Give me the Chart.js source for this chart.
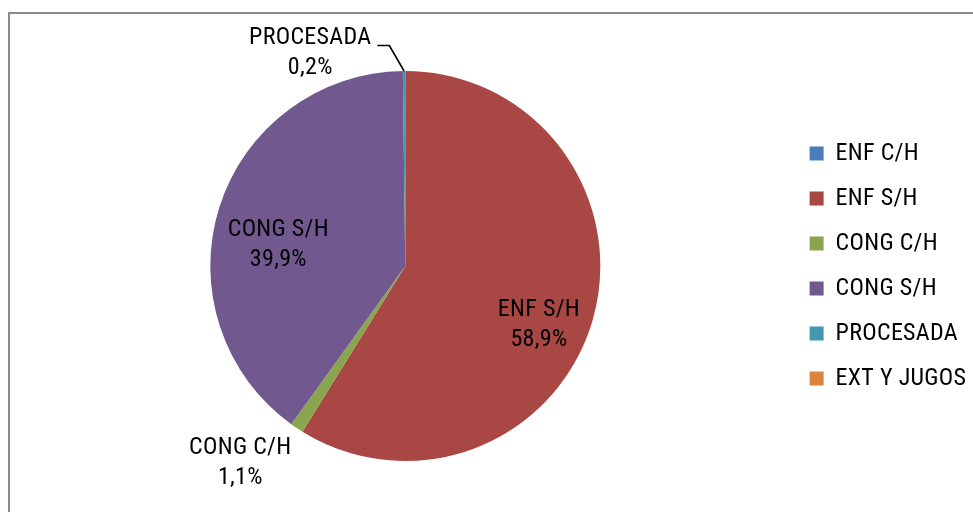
<!DOCTYPE html>
<html>
<head>
<meta charset="utf-8">
<script src="https://cdn.jsdelivr.net/npm/chart.js@4/dist/chart.umd.min.js"></script>
<style>
  html, body { margin: 0; padding: 0; background: #fff; }
  #wrap { position: relative; width: 973px; height: 512px; overflow: hidden; }
  #frame { position: absolute; left: 8px; top: 12px; width: 1000px; height: 600px;
           border-left: 2px solid #8a8a8a; border-top: 2px solid #8a8a8a; }
  canvas { position: absolute; left: 0; top: 0; }
</style>
</head>
<body>
<div id="wrap">
  <div id="frame"></div>
  <canvas id="myChart" width="973" height="512"></canvas>
</div>
<script>
'use strict';

const categories = ['ENF C/H', 'ENF S/H', 'CONG C/H', 'CONG S/H', 'PROCESADA', 'EXT Y JUGOS'];
const shares = [0, 58.9, 1.1, 39.9, 0.2, 0];
const pctLabels = ['', '58,9%', '1,1%', '39,9%', '0,2%', ''];
const colors = ['#4a7ebb', '#a84743', '#89a54e', '#71588f', '#4198af', '#db843d'];

const fontFam = "'Roboto Condensed', 'DejaVu Sans Condensed', sans-serif";
const fontSize = 24;
const spacing = '0.3px';

// where each slice label sits: radius factor and angle nudge (deg) from the slice middle
const labelPlace = [
    null,
    { r: 0.749, da: 7.9 },
    { r: 1.319, da: 6.1 },
    { r: 0.660, da: -8.1 },
    { r: 1.196, da: -23.7, leader: true },
    null
];

/*narrow look for all text*/
const letterSpacing = {
    id: 'letterSpacing',
    beforeDraw(chart) {
        chart.ctx.letterSpacing = spacing;
    }
};

/*slice labels*/
const sliceLabels = {
    id: 'sliceLabels',
    afterDatasetsDraw(chart) {
        const ctx = chart.ctx;
        const arcs = chart.getDatasetMeta(0).data;
        ctx.save();
        ctx.letterSpacing = spacing;
        ctx.font = fontSize + 'px ' + fontFam;
        ctx.fillStyle = '#000';
        ctx.textAlign = 'center';
        ctx.textBaseline = 'middle';
        arcs.forEach(function(arc, i) {
            const place = labelPlace[i];
            if (!place) return;
            const p = arc.getProps(['x', 'y', 'startAngle', 'endAngle', 'outerRadius'], true);
            const mid = (p.startAngle + p.endAngle) / 2;
            const a = mid + place.da * Math.PI / 180;
            const cx = p.x + Math.cos(a) * p.outerRadius * place.r;
            const cy = p.y + Math.sin(a) * p.outerRadius * place.r;
            ctx.fillText(categories[i], cx, cy - 15);
            ctx.fillText(pctLabels[i], cx, cy + 15);

            if (place.leader) {
                const w = ctx.measureText(categories[i]).width;
                const lx = cx + w / 2 + 6;
                const ly = cy - 7.5;
                const ex = p.x + Math.cos(mid) * p.outerRadius;
                const ey = p.y + Math.sin(mid) * p.outerRadius;
                ctx.strokeStyle = '#000';
                ctx.lineWidth = 1.6;
                ctx.beginPath();
                ctx.moveTo(lx, ly);
                ctx.lineTo(lx + 12, ly);
                ctx.lineTo(ex, ey);
                ctx.stroke();
            }
        });
        ctx.restore();
    }
};

const ctx = document.getElementById('myChart').getContext('2d');

const chart = new Chart(ctx, {
    type: 'pie',
    data: {
        labels: categories,
        datasets: [{
            data: shares,
            backgroundColor: colors,
            borderWidth: 0
        }]
    },
    options: {
        responsive: false,
        animation: false,
        layout: {
            padding: { top: 71, bottom: 51, left: 22, right: 0 }
        },
        plugins: {
            legend: {
                position: 'right',
                maxWidth: 185,
                labels: {
                    boxWidth: 14,
                    boxHeight: 14,
                    padding: 21,
                    color: '#000',
                    font: { size: fontSize, family: fontFam }
                }
            },
            tooltip: { enabled: false }
        }
    },
    plugins: [letterSpacing, sliceLabels]
});
</script>
</body>
</html>
